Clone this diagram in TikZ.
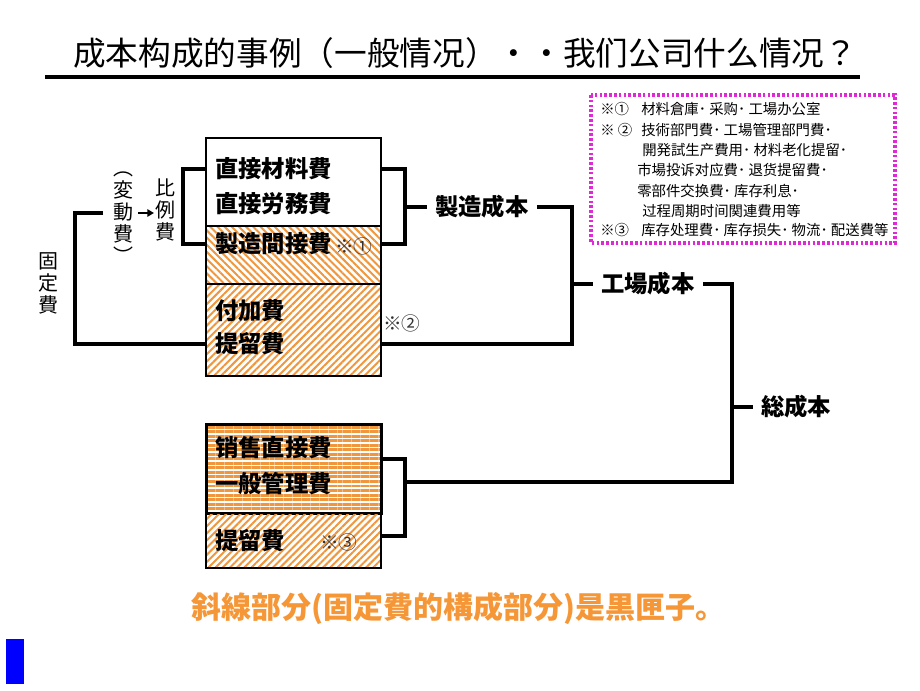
\documentclass[tikz,border=0pt]{standalone}
\usepackage{fontspec}
\usetikzlibrary{patterns.meta,arrows.meta}
\newfontfamily\jp{Noto Sans CJK JP}
\definecolor{hatch}{RGB}{240,150,60}
\definecolor{ortext}{RGB}{245,150,55}
\definecolor{notepink}{RGB}{225,40,215}
\begin{document}
\begin{tikzpicture}[x=0.75pt,y=-0.75pt,
  conn/.style={line width=2.8pt},
  box/.style={draw,line width=1.6pt,minimum width=131.25pt,anchor=north west,inner sep=0pt},
  diagF/.style={pattern={Lines[angle=45,distance=3.8pt,line width=1.5pt]},pattern color=hatch},
  diagB/.style={pattern={Lines[angle=-45,distance=3.8pt,line width=1.5pt]},pattern color=hatch},
  horiz/.style={pattern={Lines[angle=0,distance=3.4pt,line width=2.2pt]},pattern color=hatch},
  lab/.style={font=\jp\bfseries\fontsize{17.5}{20}\selectfont,inner sep=0pt,anchor=west},
  clab/.style={font=\jp\bfseries\fontsize{17.5}{20}\selectfont,inner sep=6pt,anchor=west},
  refmark/.style={font=\jp\fontsize{14}{16}\selectfont,inner sep=0pt,anchor=west,text=black!80},
  vert/.style={font=\jp\fontsize{15}{16.5}\selectfont,align=center,inner sep=0pt},
  note/.style={font=\jp\fontsize{10.8}{12}\selectfont,inner sep=0pt,anchor=west}
]
\useasboundingbox (0,0) rectangle (920,690);

% title
\node[font=\jp\fontsize{24.5}{28}\selectfont,inner sep=0pt] (title) at (465,53) {成本构成的事例（一般情况）・・我们公司什么情况？};
\coordinate (ul1) at (45,77);
\coordinate (ul2) at (860,77);
\draw[line width=2.4pt] (ul1) -- (ul2);

% note box
\coordinate (nb1) at (591,95);
\coordinate (nb2) at (895,243);
\draw[notepink,line width=2.4pt,dash pattern=on 2pt off 1.6pt] (nb1) rectangle (nb2);
\node[note] (n1a) at (600,109) {※①};
\node[note] (n1) at (641,109) {材料倉庫･ 采购･ 工場办公室};
\node[note] (n2a) at (600,130) {※ ②};
\node[note] (n2) at (641,130) {技術部門費･ 工場管理部門費･};
\node[note] (n3) at (642,150) {開発試生产費用･ 材料老化提留･};
\node[note] (n4) at (637,170) {市場投诉对应費･ 退货提留費･};
\node[note] (n5) at (637,191) {零部件交换費･ 库存利息･};
\node[note] (n6) at (642,211) {过程周期时间関連費用等};
\node[note] (n7a) at (600,230) {※③};
\node[note] (n7) at (641,230) {库存处理費･ 库存损失･ 物流･ 配送費等};

% upper box
\node[box,minimum height=66pt] (s1) at (205,137) {};
\node[box,minimum height=43.5pt,diagB] (s2) at (205,225) {};
\node[box,minimum height=69pt,diagF] (s3) at (205,283) {};
\node[lab] (t1) at (215,169) {直接材料費};
\node[lab] (t2) at (215,204) {直接労務費};
\node[lab] (t3) at (215,244) {製造間接費};
\node[refmark] (m1) at (335,246) {※①};
\node[lab] (t4) at (215,311) {付加費};
\node[lab] (t5) at (215,344) {提留費};
\node[refmark] (m2) at (383,323) {※②};

% lower box
\node[box,minimum height=66.75pt,horiz] (s4) at (205,423) {};
\node[box,minimum height=41.25pt,diagF] (s5) at (205,512) {};
\node[lab] (t6) at (215,448) {销售直接費};
\node[lab] (t7) at (215,484) {一般管理費};
\node[lab] (t8) at (215,541) {提留費};
\node[refmark] (m3) at (320,542) {※③};

% left labels
\node[vert] (kt) at (48,283) {固\\定\\費};
\node[vert] (hd) at (123,218) {︵\\変\\動\\費\\︶};
\node[vert] (hr) at (165,210) {比\\例\\費};
\coordinate (a1) at (138,213);
\coordinate (a2) at (154,213);
\draw[line width=1.2pt,-{Triangle[length=5pt,width=5.5pt]}] (a1) -- (a2);

% left small bracket
\coordinate (lb) at (183,0);
\draw[conn] (s1.west |- t1.west) -- (lb |- t1.west) -- (lb |- t3.west) -- (s2.west |- t3.west);

% big left bracket
\coordinate (bb1) at (103,213);
\coordinate (bbx) at (75,0);
\coordinate (bby) at (0,344);
\draw[conn] (bb1) -- (bbx |- bb1) -- (bbx |- bby) -- (s3.west |- bby);

% right brackets
\node[clab] (sz) at (427,207) {製造成本};
\node[clab] (kc) at (593,284) {工場成本};
\node[clab] (sg) at (753,407) {総成本};
\coordinate (rb1) at (405,0);
\draw[conn] (s1.east |- t1.west) -- (rb1 |- t1.west) -- (rb1 |- t3.west) -- (s2.east |- t3.west);
\draw[conn] (rb1 |- sz.west) -- (sz.west);
\coordinate (rb2) at (572,0);
\draw[conn] (sz.east) -- (rb2 |- sz.east) -- (rb2 |- bby) -- (s3.east |- bby);
\draw[conn] (rb2 |- kc.west) -- (kc.west);
\coordinate (rb3) at (732,0);
\coordinate (lo) at (0,482);
\draw[conn] (kc.east) -- (rb3 |- kc.east) -- (rb3 |- lo) -- (rb1 |- lo);
\draw[conn] (rb3 |- sg.west) -- (sg.west);
\coordinate (lt) at (0,459);
\coordinate (lbm) at (0,536);
\draw[conn] (s4.east |- lt) -- (rb1 |- lt) -- (rb1 |- lbm) -- (s5.east |- lbm);

% bottom text
\node[font=\jp\bfseries\fontsize{22.5}{26}\selectfont,text=ortext,inner sep=0pt] (bt) at (458,608) {斜線部分(固定費的構成部分)是黒匣子。};

% blue mark
\coordinate (bl1) at (6,639);
\coordinate (bl2) at (24,684);
\fill[blue] (bl1) rectangle (bl2);
\end{tikzpicture}
\end{document}
